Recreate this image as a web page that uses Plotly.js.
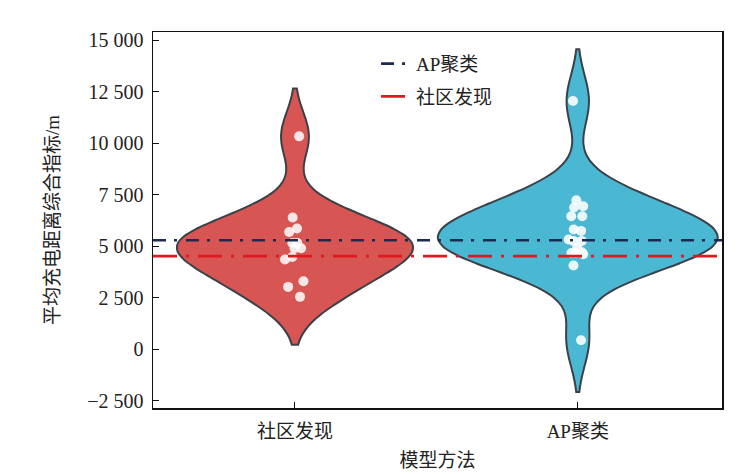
<!DOCTYPE html>
<html>
<head>
<meta charset="utf-8">
<script src="https://cdn.plot.ly/plotly-3.0.1.min.js"></script>
<style>
  html, body { margin: 0; padding: 0; background: #fff; }
  #chart { width: 741px; height: 474px; }
</style>
</head>
<body>
<div id="chart"></div>
<script>
// 模型方法
var categories = ['社区发现', 'AP聚类'];

// 各方法的平均充电距离综合指标 (m)
var communityValues = [10340, 6395, 5860, 5695, 5160, 5160, 4900, 4900, 4480, 4355, 3300, 3025, 2540];
var apValues = [12055, 7235, 6880, 6940, 6455, 6455, 5810, 5745, 5325, 5260, 5260, 4920, 4675, 4610, 4710, 4675, 4065, 435];

// 参考线
var lineNames = ['AP聚类', '社区发现'];
var lineValues = [5290, 4515];

var yTicks = [-2500, 0, 2500, 5000, 7500, 10000, 12500, 15000];
var xRange = [-0.502, 1.51];
var yRange = [-2860, 15410];

var serif = 'Liberation Serif, Times New Roman, DejaVu Serif, serif, Noto Sans CJK SC';

var violinRed = {
    type: 'violin',
    x0: 0,
    y: communityValues,
    name: categories[0],
    width: 0.83,
    bandwidth: 1165,
    fillcolor: '#d75654',
    line: { color: '#3c4048', width: 2 },
    points: 'all',
    pointpos: 0,
    jitter: 0.1,
    marker: { size: 10, color: 'rgba(255,255,255,0.85)', line: { width: 0 } },
    hoveron: 'points',
    showlegend: false
};

var violinBlue = {
    type: 'violin',
    x0: 1,
    y: apValues,
    name: categories[1],
    width: 0.99,
    bandwidth: 1260,
    fillcolor: '#4ab7d3',
    line: { color: '#3c4048', width: 2 },
    points: 'all',
    pointpos: 0,
    jitter: 0.1,
    marker: { size: 10, color: 'rgba(255,255,255,0.88)', line: { width: 0 } },
    hoveron: 'points',
    showlegend: false
};

var lineAP = {
    type: 'scatter',
    mode: 'lines',
    x: xRange,
    y: [lineValues[0], lineValues[0]],
    name: lineNames[0],
    legendgroup: 'a',
    line: { color: '#1d2a50', width: 2.6, dash: '13px,8px,3px,9px' }
};

var lineCommunity = {
    type: 'scatter',
    mode: 'lines',
    x: xRange,
    y: [lineValues[1], lineValues[1]],
    name: lineNames[1],
    legendgroup: 'b',
    line: { color: '#e0191f', width: 2.8, dash: '24px,9px,3px,9px' }
};

var data = [violinRed, violinBlue, lineAP, lineCommunity];

var layout = {
    width: 741,
    height: 474,
    paper_bgcolor: '#fff',
    plot_bgcolor: '#fff',
    font: { family: serif, size: 20, color: '#222' },
    separators: '. ',
    margin: { l: 153, r: 19, t: 32, b: 66 },
    violingap: 0,
    xaxis: {
        type: 'linear',
        range: xRange,
        tickvals: [0, 1],
        ticktext: categories,
        ticks: 'inside',
        ticklen: 6,
        tickcolor: '#111',
        showline: true,
        mirror: true,
        linecolor: '#111',
        linewidth: 1.5,
        showgrid: false,
        zeroline: false,
        tickfont: { size: 19 },
        ticklabelstandoff: 6,
        title: { text: '模型方法', font: { size: 19 }, standoff: 12 }
    },
    yaxis: {
        range: yRange,
        tickvals: yTicks,
        tickformat: ',d',
        ticks: 'inside',
        ticklen: 6,
        tickcolor: '#111',
        showline: true,
        mirror: true,
        linecolor: '#111',
        linewidth: 1.5,
        showgrid: false,
        zeroline: false,
        tickfont: { size: 20 },
        ticklabelstandoff: 4,
        title: { text: '平均充电距离综合指标/m', font: { size: 19 }, standoff: 22 }
    },
    legend: {
        x: 0.392,
        y: 0.966,
        xanchor: 'left',
        yanchor: 'top',
        bgcolor: 'rgba(0,0,0,0)',
        font: { size: 19 },
        traceorder: 'grouped',
        tracegroupgap: 5
    },
    showlegend: true
};

Plotly.newPlot('chart', data, layout, { staticPlot: true });
</script>
</body>
</html>
